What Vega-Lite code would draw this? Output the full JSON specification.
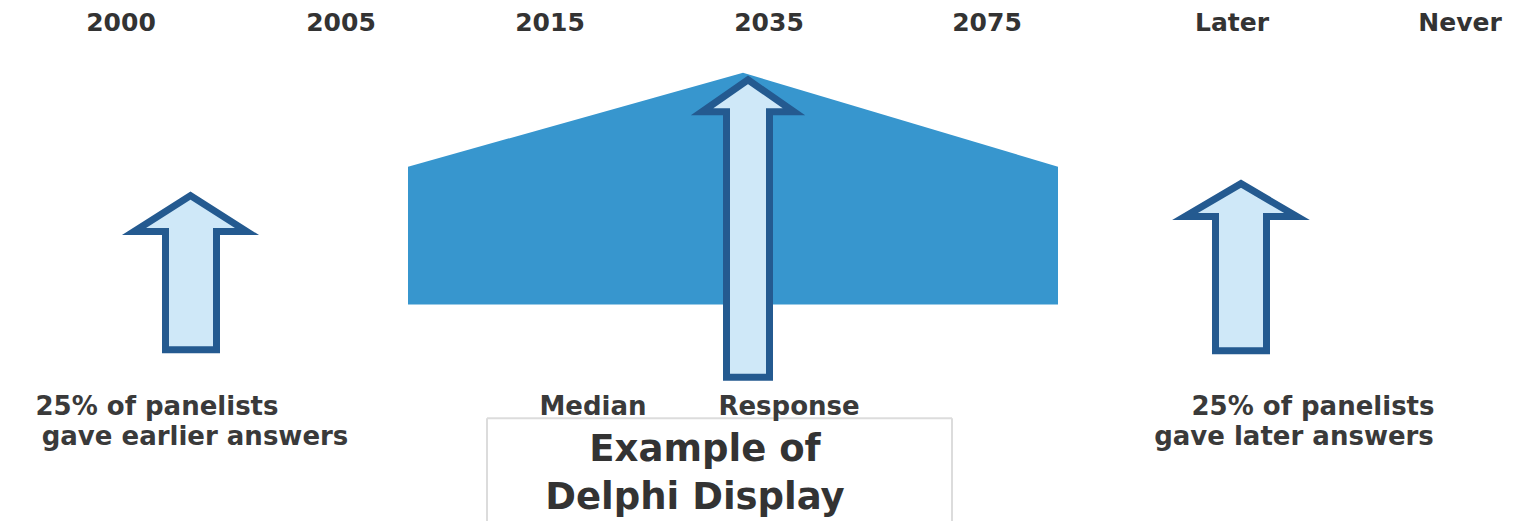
{
  "$schema": "https://vega.github.io/schema/vega-lite/v6.json",
  "width": 1532,
  "height": 522,
  "padding": 0,
  "autosize": {"type": "fit", "contains": "padding"},
  "background": "white",
  "config": {"view": {"stroke": null}},
  "datasets": {
    "trap": [
      {"px": 408, "top": 167, "base": 305},
      {"px": 743, "top": 73, "base": 305},
      {"px": 1058, "top": 167, "base": 305}
    ],
    "box": [
      {"x": 487, "y": 419, "x2": 487, "y2": 522},
      {"x": 487, "y": 419, "x2": 952, "y2": 419},
      {"x": 952, "y": 419, "x2": 952, "y2": 522}
    ],
    "arrows": [
      {"arrow": "earlier", "i": 0, "x": 165.5, "y": 350.5},
      {"arrow": "earlier", "i": 1, "x": 165.5, "y": 232},
      {"arrow": "earlier", "i": 2, "x": 134, "y": 232},
      {"arrow": "earlier", "i": 3, "x": 190.5, "y": 196},
      {"arrow": "earlier", "i": 4, "x": 247, "y": 232},
      {"arrow": "earlier", "i": 5, "x": 216.5, "y": 232},
      {"arrow": "earlier", "i": 6, "x": 216.5, "y": 350.5},
      {"arrow": "earlier", "i": 7, "x": 165.5, "y": 350.5},
      {"arrow": "median", "i": 0, "x": 726.5, "y": 378},
      {"arrow": "median", "i": 1, "x": 726.5, "y": 112},
      {"arrow": "median", "i": 2, "x": 702, "y": 112},
      {"arrow": "median", "i": 3, "x": 748, "y": 80},
      {"arrow": "median", "i": 4, "x": 794, "y": 112},
      {"arrow": "median", "i": 5, "x": 769.5, "y": 112},
      {"arrow": "median", "i": 6, "x": 769.5, "y": 378},
      {"arrow": "median", "i": 7, "x": 726.5, "y": 378},
      {"arrow": "later", "i": 0, "x": 1215.5, "y": 351.5},
      {"arrow": "later", "i": 1, "x": 1215.5, "y": 217},
      {"arrow": "later", "i": 2, "x": 1185, "y": 217},
      {"arrow": "later", "i": 3, "x": 1241, "y": 184},
      {"arrow": "later", "i": 4, "x": 1297, "y": 217},
      {"arrow": "later", "i": 5, "x": 1266.5, "y": 217},
      {"arrow": "later", "i": 6, "x": 1266.5, "y": 351.5},
      {"arrow": "later", "i": 7, "x": 1215.5, "y": 351.5}
    ],
    "years": [
      {"label": "2000", "x": 121, "y": 31},
      {"label": "2005", "x": 341, "y": 31},
      {"label": "2015", "x": 550, "y": 31},
      {"label": "2035", "x": 769, "y": 31},
      {"label": "2075", "x": 987, "y": 31},
      {"label": "Later", "x": 1232, "y": 31},
      {"label": "Never", "x": 1460, "y": 31}
    ],
    "notes": [
      {"label": "25% of panelists", "x": 157, "y": 416},
      {"label": "gave earlier answers", "x": 195, "y": 446},
      {"label": "Median", "x": 593, "y": 416},
      {"label": "Response", "x": 789, "y": 416},
      {"label": "25% of panelists", "x": 1313, "y": 416},
      {"label": "gave later answers", "x": 1294, "y": 446}
    ],
    "title": [
      {"label": "Example of", "x": 705, "y": 462},
      {"label": "Delphi Display", "x": 695, "y": 510}
    ]
  },
  "layer": [
    {
      "data": {"name": "trap"},
      "mark": {"type": "area", "color": "#3796CE", "opacity": 1, "interpolate": "linear"},
      "encoding": {
        "x": {"field": "px", "type": "quantitative", "scale": {"domain": [0, 1532], "nice": false, "zero": false}, "axis": null},
        "y": {"field": "top", "type": "quantitative", "scale": {"domain": [0, 522], "reverse": true, "nice": false, "zero": false}, "axis": null},
        "y2": {"field": "base"}
      }
    },
    {
      "data": {"name": "box"},
      "mark": {"type": "rule", "color": "#dcdcdc", "strokeWidth": 2},
      "encoding": {
        "x": {"field": "x", "type": "quantitative", "axis": null},
        "y": {"field": "y", "type": "quantitative", "axis": null},
        "x2": {"field": "x2"},
        "y2": {"field": "y2"}
      }
    },
    {
      "data": {"name": "arrows"},
      "mark": {"type": "line", "stroke": "#245A90", "fill": "#CFE8F8", "strokeWidth": 7, "strokeJoin": "miter", "strokeCap": "square", "interpolate": "linear"},
      "encoding": {
        "x": {"field": "x", "type": "quantitative", "axis": null},
        "y": {"field": "y", "type": "quantitative", "axis": null},
        "order": {"field": "i", "type": "quantitative"},
        "detail": {"field": "arrow", "type": "nominal"}
      }
    },
    {
      "data": {"name": "years"},
      "mark": {"type": "text", "font": "DejaVu Sans", "fontWeight": "bold", "fontSize": 25, "color": "#333333", "align": "center", "baseline": "alphabetic"},
      "encoding": {
        "x": {"field": "x", "type": "quantitative", "axis": null},
        "y": {"field": "y", "type": "quantitative", "axis": null},
        "text": {"field": "label"}
      }
    },
    {
      "data": {"name": "notes"},
      "mark": {"type": "text", "font": "DejaVu Sans", "fontWeight": "bold", "fontSize": 26, "color": "#3a3a3a", "align": "center", "baseline": "alphabetic"},
      "encoding": {
        "x": {"field": "x", "type": "quantitative", "axis": null},
        "y": {"field": "y", "type": "quantitative", "axis": null},
        "text": {"field": "label"}
      }
    },
    {
      "data": {"name": "title"},
      "mark": {"type": "text", "font": "DejaVu Sans", "fontWeight": "bold", "fontSize": 37, "color": "#333333", "align": "center", "baseline": "alphabetic"},
      "encoding": {
        "x": {"field": "x", "type": "quantitative", "axis": null},
        "y": {"field": "y", "type": "quantitative", "axis": null},
        "text": {"field": "label"}
      }
    }
  ]
}
